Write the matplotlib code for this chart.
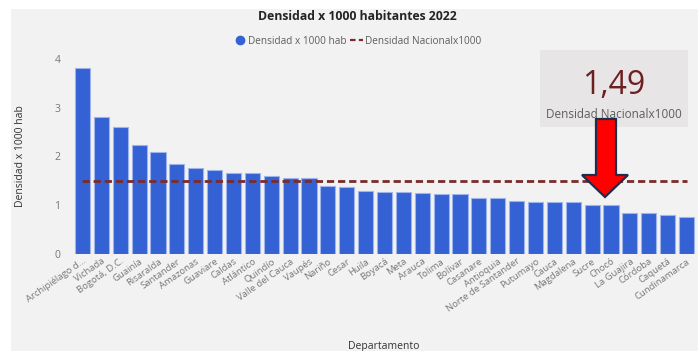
import matplotlib
matplotlib.use("Agg")
import matplotlib.pyplot as plt
from matplotlib.patches import Rectangle, Polygon
from matplotlib.lines import Line2D

departamentos = [
    "Archipiélago d...", "Vichada", "Bogotá, D.C.", "Guainía", "Risaralda",
    "Santander", "Amazonas", "Guaviare", "Caldas", "Atlántico", "Quindío",
    "Valle del Cauca", "Vaupés", "Nariño", "Cesar", "Huila", "Boyacá", "Meta",
    "Arauca", "Tolima", "Bolívar", "Casanare", "Antioquia",
    "Norte de Santander", "Putumayo", "Cauca", "Magdalena", "Sucre", "Chocó",
    "La Guajira", "Córdoba", "Caquetá", "Cundinamarca",
]
densidad = [
    3.82, 2.80, 2.61, 2.23, 2.08, 1.84, 1.77, 1.72, 1.67, 1.66, 1.60,
    1.56, 1.56, 1.39, 1.37, 1.29, 1.28, 1.27, 1.24, 1.23, 1.22, 1.15, 1.14,
    1.09, 1.06, 1.06, 1.06, 1.01, 1.00, 0.85, 0.84, 0.80, 0.76,
]
densidad_nacional = 1.49
y_ticks = [0, 1, 2, 3, 4]

W, H = 698, 351
FONT = ["Open Sans", "DejaVu Sans"]
plt.rcParams["font.family"] = FONT

fig = plt.figure(figsize=(W / 100, H / 100), dpi=100, facecolor="white")


def px(x, y):
    return x / W, 1 - y / H


# gray panel behind the visual
fig.patches.append(Rectangle(px(11, H), (W - 11) / W, (H - 9) / H,
                             transform=fig.transFigure, facecolor="#f2f2f2",
                             edgecolor="none", zorder=-2))

ax = fig.add_axes([73 / W, (H - 254) / H, (696 - 73) / W, 4.1 * 48.8 / H])
ax.set_facecolor("none")
ax.set_zorder(2)

x = list(range(len(departamentos)))
ax.bar(x, densidad, width=0.8, color="#3461d3", edgecolor="#9fb4ea",
       linewidth=0.8, zorder=2)
ax.plot([x[0], x[-1]], [densidad_nacional, densidad_nacional],
        color="#7b2b2b", lw=2, dashes=(2.6, 1.4), zorder=3)

ax.set_xlim(-0.5, len(departamentos) - 0.5)
ax.set_ylim(0, 4.1)
ax.set_yticks(y_ticks)
ax.set_yticklabels([str(t) for t in y_ticks])
ax.set_xticks(x)
ax.set_xticklabels(departamentos, rotation=35, ha="right", va="top",
                   rotation_mode="anchor", fontsize=6.8, color="#777777")
ax.tick_params(axis="both", length=0)
ax.tick_params(axis="x", pad=2)
ax.tick_params(axis="y", labelsize=7.5, labelcolor="#777777", pad=9)
for s in ax.spines.values():
    s.set_visible(False)

fig.text(*px(21, 156), "Densidad x 1000 hab", rotation=90, ha="center",
         va="center", fontsize=7.5, color="#333333")
fig.text(*px(384, 346), "Departamento", ha="center", va="center",
         fontsize=7.5, color="#333333")

fig.text(*px(357, 17), "Densidad x 1000 habitantes 2022", ha="center",
         va="center", fontsize=8.8, fontweight="bold", color="#252423")

handles = [
    Line2D([], [], marker="o", linestyle="none", markersize=6,
           markerfacecolor="#3461d3", markeredgecolor="#3461d3"),
    Line2D([], [], color="#7b2b2b", lw=1.6, dashes=(2.5, 1.5)),
]
fig.legend(handles, ["Densidad x 1000 hab", "Densidad Nacionalx1000"],
           loc="center", bbox_to_anchor=px(357, 41), ncol=2, frameon=False,
           fontsize=7.2, labelcolor="#605e5c", handlelength=1.3,
           handletextpad=0.2, columnspacing=0.3, borderpad=0)

# KPI card
fig.patches.append(Rectangle(px(540, 127), (688 - 540) / W, (127 - 50) / H,
                             transform=fig.transFigure, facecolor="#e7e5e5",
                             edgecolor="none", zorder=-1))
fig.text(*px(614, 86), f"{densidad_nacional:.2f}".replace(".", ","),
         ha="center", va="center", fontsize=23, color="#6e1f1f")
fig.text(*px(614, 115), "Densidad Nacionalx1000", ha="center", va="center",
         fontsize=8.5, color="#605e5c")

# pointer arrow
arrow_px = [(596, 119), (616, 119), (616, 175), (628, 175), (605, 197),
            (582, 175), (596, 175)]
arrow = Polygon([px(a, b) for a, b in arrow_px], closed=True,
                transform=fig.transFigure, facecolor="#ff0000",
                edgecolor="#1f2d4d", linewidth=1.6)
arrow.set_zorder(5)
fig.patches.append(arrow)

fig.savefig("out.png", dpi=100, facecolor=fig.get_facecolor())
